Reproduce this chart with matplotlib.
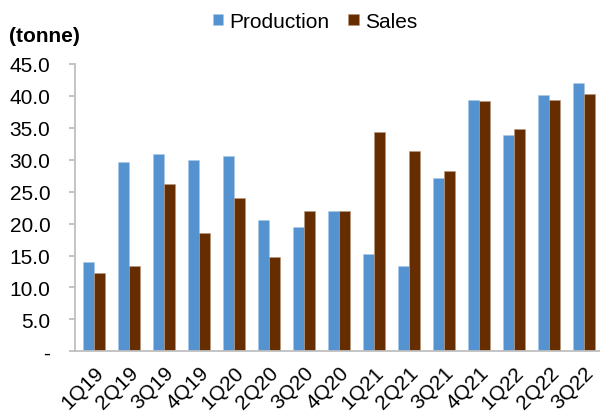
import numpy as np
import matplotlib.pyplot as plt
from matplotlib.ticker import FuncFormatter

plt.rcParams['font.family'] = ['Liberation Sans', 'DejaVu Sans']

quarters = ["1Q19", "2Q19", "3Q19", "4Q19", "1Q20", "2Q20", "3Q20", "4Q20",
            "1Q21", "2Q21", "3Q21", "4Q21", "1Q22", "2Q22", "3Q22"]
production = [14.0, 29.6, 30.9, 29.9, 30.6, 20.6, 19.4, 21.9,
              15.2, 13.3, 27.1, 39.4, 33.9, 40.2, 42.1]
sales = [12.2, 13.3, 26.2, 18.6, 24.0, 14.8, 22.0, 21.9,
         34.3, 31.4, 28.2, 39.2, 34.8, 39.4, 40.3]

fig = plt.figure(figsize=(6, 4.14), dpi=100)
ax = fig.add_axes([0.1255, 0.149, 0.879, 0.694])

x = np.arange(len(quarters))
w = 0.315
ax.bar(x - w / 2, production, w, color="#5592D0", label="Production",
       edgecolor="#A9C8E8", linewidth=0.4)
ax.bar(x + w / 2, sales, w, color="#652D00", label="Sales",
       edgecolor="#B89A80", linewidth=0.4)

ax.set_xlim(-0.534, len(quarters) - 0.466)
ax.set_ylim(0, 45)
ax.set_yticks(np.arange(0, 46, 5))
ax.yaxis.set_major_formatter(FuncFormatter(lambda v, pos: "-" if v == 0 else f"{v:.1f}"))
ax.set_xticks(x)
ax.set_xticklabels(quarters, rotation=45, ha="right", rotation_mode="anchor")

for s in ["top", "right"]:
    ax.spines[s].set_visible(False)
for s in ["left", "bottom"]:
    ax.spines[s].set_color("#BFBFBF")
    ax.spines[s].set_linewidth(1.3)
ax.tick_params(axis="y", length=4, color="#BFBFBF", width=1.3, labelsize=15, pad=14)
ax.tick_params(axis="x", length=0, labelsize=15, pad=8)

fig.text(0.015, 0.912, "(tonne)", fontsize=15, fontweight="bold", va="center")
fig.legend(loc="center", bbox_to_anchor=(0.525, 0.946), ncol=2, frameon=False,
           fontsize=15, handlelength=0.5, handleheight=0.5, handletextpad=0.3,
           columnspacing=0.9)

fig.savefig("out.png", dpi=100)
